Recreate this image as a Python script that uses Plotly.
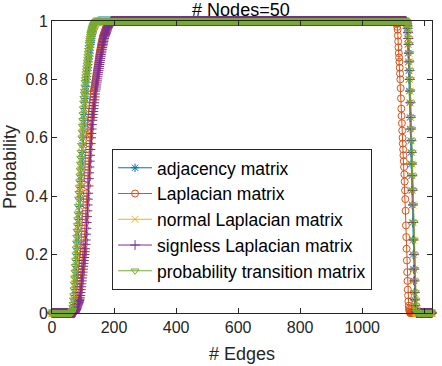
import plotly.graph_objects as go

# number of edges, 0..1225 for 50 nodes
edges = list(range(0, 1226))

names = [
    'adjacency matrix',
    'Laplacian matrix',
    'normal Laplacian matrix',
    'signless Laplacian matrix',
    'probability transition matrix',
]

# rising part, edges 60..199
rise_adjacency = [
    0, 0, 0, 0, 0, 0, 0, 0, 0.005, 0.008,
    0.01, 0.02, 0.03, 0.045, 0.06, 0.08, 0.1, 0.12, 0.14, 0.16,
    0.18, 0.2, 0.22, 0.24, 0.26, 0.28, 0.3, 0.32, 0.34, 0.365,
    0.39, 0.41, 0.43, 0.45, 0.47, 0.49, 0.51, 0.53, 0.55, 0.575,
    0.6, 0.62, 0.64, 0.66, 0.68, 0.7, 0.72, 0.735, 0.75, 0.76,
    0.775, 0.79, 0.8, 0.81, 0.82, 0.83, 0.84, 0.85, 0.86, 0.87,
    0.88, 0.89, 0.9, 0.91, 0.92, 0.927, 0.934, 0.941, 0.948, 0.955,
    0.959, 0.963, 0.967, 0.971, 0.975, 0.978, 0.981, 0.984, 0.986, 0.988,
    0.99, 0.992, 0.993, 0.995, 0.996, 0.997, 0.998, 0.999, 0.999, 1,
] + [1] * 50
rise_laplacian = [
    0, 0, 0, 0, 0, 0, 0, 0, 0.002, 0.004,
    0.006, 0.008, 0.01, 0.012, 0.015, 0.018, 0.021, 0.024, 0.027, 0.03,
    0.033, 0.036, 0.04, 0.043, 0.047, 0.052, 0.06, 0.07, 0.08, 0.09,
    0.1, 0.11, 0.12, 0.13, 0.14, 0.15, 0.16, 0.17, 0.18, 0.19,
    0.2, 0.21, 0.22, 0.235, 0.25, 0.27, 0.29, 0.31, 0.33, 0.35,
    0.37, 0.39, 0.41, 0.435, 0.46, 0.48, 0.5, 0.52, 0.54, 0.56,
    0.58, 0.6, 0.615, 0.63, 0.645, 0.66, 0.67, 0.68, 0.69, 0.7,
    0.71, 0.72, 0.73, 0.74, 0.75, 0.76, 0.767, 0.774, 0.781, 0.788,
    0.795, 0.802, 0.809, 0.816, 0.823, 0.83, 0.837, 0.844, 0.851, 0.858,
    0.865, 0.872, 0.879, 0.885, 0.891, 0.897, 0.903, 0.909, 0.915, 0.92,
    0.925, 0.93, 0.935, 0.94, 0.945, 0.948, 0.951, 0.954, 0.957, 0.96,
    0.963, 0.966, 0.969, 0.972, 0.975, 0.978, 0.98, 0.982, 0.984, 0.986,
    0.988, 0.99, 0.992, 0.994, 0.996, 0.997, 0.998, 0.999, 1, 1,
] + [1] * 10
rise_normal = [
    0, 0, 0, 0, 0, 0, 0.005, 0.008, 0.01, 0.02,
    0.03, 0.045, 0.06, 0.08, 0.1, 0.12, 0.14, 0.16, 0.18, 0.2,
    0.22, 0.24, 0.26, 0.28, 0.3, 0.32, 0.34, 0.365, 0.39, 0.41,
    0.43, 0.45, 0.47, 0.49, 0.51, 0.53, 0.55, 0.575, 0.6, 0.62,
    0.64, 0.66, 0.68, 0.7, 0.72, 0.735, 0.75, 0.76, 0.775, 0.79,
    0.8, 0.81, 0.82, 0.83, 0.84, 0.85, 0.86, 0.87, 0.88, 0.89,
    0.9, 0.91, 0.92, 0.927, 0.934, 0.941, 0.948, 0.955, 0.959, 0.963,
    0.967, 0.971, 0.975, 0.978, 0.981, 0.984, 0.986, 0.988, 0.99, 0.992,
    0.993, 0.995, 0.996, 0.997, 0.998, 0.999, 0.999, 1, 1, 1,
] + [1] * 50
rise_signless = [0] * 10 + [
    0, 0, 0, 0.002, 0.004, 0.006, 0.008, 0.01, 0.012, 0.015,
    0.018, 0.021, 0.024, 0.027, 0.03, 0.033, 0.036, 0.04, 0.043, 0.047,
    0.052, 0.06, 0.07, 0.08, 0.09, 0.1, 0.11, 0.12, 0.13, 0.14,
    0.15, 0.16, 0.17, 0.18, 0.19, 0.2, 0.21, 0.22, 0.235, 0.25,
    0.27, 0.29, 0.31, 0.33, 0.35, 0.37, 0.39, 0.41, 0.435, 0.46,
    0.48, 0.5, 0.52, 0.54, 0.56, 0.58, 0.6, 0.615, 0.63, 0.645,
    0.66, 0.67, 0.68, 0.69, 0.7, 0.71, 0.72, 0.73, 0.74, 0.75,
    0.76, 0.767, 0.774, 0.781, 0.788, 0.795, 0.802, 0.809, 0.816, 0.823,
    0.83, 0.837, 0.844, 0.851, 0.858, 0.865, 0.872, 0.879, 0.885, 0.891,
    0.897, 0.903, 0.909, 0.915, 0.92, 0.925, 0.93, 0.935, 0.94, 0.945,
    0.948, 0.951, 0.954, 0.957, 0.96, 0.963, 0.966, 0.969, 0.972, 0.975,
    0.978, 0.98, 0.982, 0.984, 0.986, 0.988, 0.99, 0.992, 0.994, 0.996,
    0.997, 0.998, 0.999, 1, 1, 1, 1, 1, 1, 1,
]
rise_transition = [
    0, 0, 0, 0, 0.005, 0.008, 0.01, 0.02, 0.03, 0.045,
    0.06, 0.08, 0.1, 0.12, 0.14, 0.16, 0.18, 0.2, 0.22, 0.24,
    0.26, 0.28, 0.3, 0.32, 0.34, 0.365, 0.39, 0.41, 0.43, 0.45,
    0.47, 0.49, 0.51, 0.53, 0.55, 0.575, 0.6, 0.62, 0.64, 0.66,
    0.68, 0.7, 0.72, 0.735, 0.75, 0.76, 0.775, 0.79, 0.8, 0.81,
    0.82, 0.83, 0.84, 0.85, 0.86, 0.87, 0.88, 0.89, 0.9, 0.91,
    0.92, 0.927, 0.934, 0.941, 0.948, 0.955, 0.959, 0.963, 0.967, 0.971,
    0.975, 0.978, 0.981, 0.984, 0.986, 0.988, 0.99, 0.992, 0.993, 0.995,
    0.996, 0.997, 0.998, 0.999, 0.999, 1, 1, 1, 1, 1,
] + [1] * 50

# falling part, edges 1110..1179
fall_curve_tail = [
    1, 1, 0.999, 0.998, 0.996, 0.993, 0.99, 0.985, 0.975, 0.96,
    0.94, 0.92, 0.89, 0.86, 0.83, 0.8, 0.76, 0.72, 0.67, 0.63,
    0.59, 0.55, 0.51, 0.47, 0.42, 0.37, 0.31, 0.25, 0.2, 0.15,
    0.11, 0.07, 0.045, 0.025, 0.012, 0.005, 0.002, 0, 0, 0,
]
fall_adjacency = [1] * 26 + fall_curve_tail + [0] * 4
fall_laplacian = [
    1, 0.995, 0.99, 0.98, 0.97, 0.95, 0.93, 0.91, 0.89, 0.875,
    0.86, 0.84, 0.82, 0.8, 0.77, 0.735, 0.7, 0.675, 0.65, 0.625,
    0.6, 0.58, 0.56, 0.54, 0.52, 0.5, 0.475, 0.45, 0.42, 0.39,
    0.35, 0.3, 0.26, 0.22, 0.18, 0.14, 0.11, 0.08, 0.06, 0.04,
    0.025, 0.015, 0.01, 0.005, 0.002, 0, 0, 0, 0, 0,
] + [0] * 20
fall_normal = [1] * 28 + fall_curve_tail + [0] * 2
fall_signless = [1] * 29 + fall_curve_tail + [0] * 1
fall_transition = [1] * 30 + fall_curve_tail

rises = [rise_adjacency, rise_laplacian, rise_normal, rise_signless, rise_transition]
falls = [fall_adjacency, fall_laplacian, fall_normal, fall_signless, fall_transition]

colors = ['#0072BD', '#D95319', '#EDB120', '#7E2F8E', '#77AC30']
symbols = ['asterisk-open', 'circle-open', 'x-thin-open', 'cross-thin-open', 'triangle-down-open']


def main():
    fig = go.Figure()
    for i in range(5):
        # 0 below 60 edges, 1 on the plateau 200..1109, 0 from 1180 on
        y = [0] * 60 + rises[i] + [1] * 910 + falls[i] + [0] * 46
        fig.add_trace(go.Scatter(x=edges, y=y,
                                 name=names[i],
                                 mode='lines+markers',
                                 cliponaxis=False,
                                 line=dict(color=colors[i], width=1),
                                 marker=dict(symbol=symbols[i], size=7, color=colors[i],
                                             line=dict(color=colors[i], width=1))
                                 ))

    axis = dict(showline=True, linecolor='#262626', linewidth=1, mirror='ticks',
                ticks='inside', ticklen=5, tickcolor='#262626', showgrid=False,
                zeroline=False, automargin=False, tickfont=dict(size=16, color='#262626'))
    fig.update_xaxes(range=[0, 1225], tickvals=[0, 200, 400, 600, 800, 1000, 1200],
                     title=dict(text='# Edges', font=dict(size=18, color='#262626'), standoff=12),
                     **axis)
    fig.update_yaxes(range=[0, 1], tickvals=[0, 0.2, 0.4, 0.6, 0.8, 1],
                     ticktext=['0', '0.2', '0.4', '0.6', '0.8', '1'],
                     title=dict(text='Probability', font=dict(size=18, color='#262626'), standoff=4),
                     **axis)
    fig.update_layout(
        width=442, height=366,
        margin=dict(l=52, r=10, t=21, b=53),
        paper_bgcolor='white', plot_bgcolor='white',
        font=dict(family='Liberation Sans, Arial, sans-serif', color='#262626'),
        title=dict(text='# Nodes=50', x=0.545, xanchor='center', y=0.99, yanchor='top',
                   pad=dict(t=0, b=0), font=dict(size=18, color='black')),
        legend=dict(x=0.158, y=0.562, xanchor='left', yanchor='top',
                    bgcolor='white', bordercolor='#262626', borderwidth=1,
                    font=dict(size=17.5, color='black'), tracegroupgap=0, itemwidth=34),
        showlegend=True,
    )
    # drop the browser's default body margin so the figure sits at the page corner
    fig.write_html('out.html', config={'displayModeBar': False},
                   post_script="document.body.style.margin='0';")


if __name__ == '__main__':
    main()
